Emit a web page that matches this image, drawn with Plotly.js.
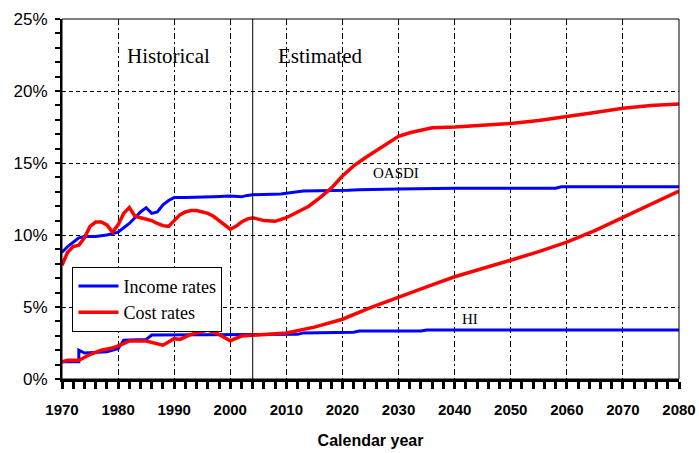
<!DOCTYPE html>
<html>
<head>
<meta charset="utf-8">
<script src="https://cdn.plot.ly/plotly-3.0.1.min.js"></script>
<style>html,body{margin:0;padding:0;background:#fff;}#chart{width:699px;height:453px;}</style>
</head>
<body>
<div id="chart"></div>
<script>
// OASDI income rate (% of taxable payroll)
var oasdiIncomeYears = [1970, 1971, 1972, 1973, 1974, 1976, 1978, 1980, 1981, 1982, 1983, 1984, 1985, 1986, 1987, 1988, 1989, 1990, 1992, 1995, 1997, 2000, 2002, 2003, 2004, 2009, 2011, 2013, 2021, 2023, 2030, 2040, 2058, 2059, 2080];
var oasdiIncomeVals  = [8.8, 9.2, 9.5, 9.8, 9.9, 9.9, 10.0, 10.2, 10.5, 10.8, 11.2, 11.6, 11.9, 11.5, 11.6, 12.1, 12.4, 12.6, 12.6, 12.6, 12.65, 12.7, 12.65, 12.75, 12.8, 12.85, 12.95, 13.05, 13.1, 13.15, 13.2, 13.25, 13.25, 13.35, 13.35];
// OASDI cost rate
var oasdiCostYears = [1970, 1971, 1972, 1973, 1974, 1975, 1976, 1977, 1978, 1979, 1980, 1981, 1982, 1983, 1984, 1985, 1986, 1987, 1988, 1989, 1990, 1991, 1992, 1993, 1994, 1995, 1996, 1997, 1998, 1999, 2000, 2001, 2002, 2003, 2004, 2006, 2008, 2010, 2012, 2014, 2016, 2018, 2020, 2022, 2024, 2026, 2028, 2030, 2032, 2034, 2036, 2040, 2045, 2050, 2055, 2060, 2065, 2070, 2075, 2080];
var oasdiCostVals  = [7.9, 8.8, 9.2, 9.3, 9.8, 10.6, 10.9, 10.9, 10.7, 10.2, 10.7, 11.5, 11.9, 11.3, 11.2, 11.1, 11.0, 10.8, 10.65, 10.6, 11.0, 11.4, 11.6, 11.7, 11.7, 11.6, 11.5, 11.3, 11.0, 10.7, 10.4, 10.6, 10.9, 11.1, 11.2, 11.0, 10.95, 11.2, 11.6, 12.0, 12.6, 13.25, 14.1, 14.8, 15.35, 15.85, 16.4, 16.85, 17.1, 17.3, 17.45, 17.5, 17.6, 17.75, 17.95, 18.2, 18.5, 18.8, 19.0, 19.1];
// HI income rate
var hiIncomeYears = [1970, 1973, 1973, 1974, 1978, 1980, 1981, 1985, 1986, 1992, 2000, 2004, 2012, 2013, 2022, 2023, 2034, 2035, 2080];
var hiIncomeVals  = [1.2, 1.2, 2.0, 1.8, 1.9, 2.1, 2.7, 2.75, 3.05, 3.05, 3.05, 3.1, 3.1, 3.2, 3.25, 3.33, 3.33, 3.4, 3.4];
// HI cost rate
var hiCostYears = [1970, 1971, 1973, 1975, 1977, 1979, 1981, 1982, 1985, 1986, 1988, 1990, 1991, 1993, 1996, 1998, 2000, 2002, 2004, 2010, 2015, 2020, 2025, 2030, 2035, 2040, 2045, 2050, 2055, 2060, 2065, 2070, 2075, 2080];
var hiCostVals  = [1.2, 1.3, 1.3, 1.7, 2.0, 2.15, 2.45, 2.64, 2.64, 2.55, 2.35, 2.8, 2.75, 3.1, 3.4, 3.1, 2.66, 2.98, 3.05, 3.2, 3.6, 4.15, 4.95, 5.7, 6.4, 7.1, 7.65, 8.25, 8.85, 9.5, 10.3, 11.2, 12.1, 13.05];

var xTickVals = [1970, 1980, 1990, 2000, 2010, 2020, 2030, 2040, 2050, 2060, 2070, 2080];
var yTickVals = [0, 5, 10, 15, 20, 25];
var yTickText = ['0%', '5%', '10%', '15%', '20%', '25%'];
var splitYear = 2004;

var blue = '#0000ff', red = '#ff0000';
var traces = [
  {x: hiIncomeYears, y: hiIncomeVals, mode: 'lines', line: {color: blue, width: 3}, showlegend: false, hoverinfo: 'skip'},
  {x: oasdiIncomeYears, y: oasdiIncomeVals, mode: 'lines', name: 'Income rates', line: {color: blue, width: 3}},
  {x: hiCostYears, y: hiCostVals, mode: 'lines', line: {color: red, width: 3.5}, showlegend: false, hoverinfo: 'skip'},
  {x: oasdiCostYears, y: oasdiCostVals, mode: 'lines', name: 'Cost rates', line: {color: red, width: 3.5}}
];

var serif = '"Liberation Serif", "Times New Roman", serif';
var sans = '"Liberation Sans", Arial, sans-serif';

var layout = {
  width: 699, height: 453,
  margin: {l: 62, r: 20, t: 19, b: 74},
  paper_bgcolor: '#fff', plot_bgcolor: '#fff',
  showlegend: true,
  legend: {
    x: 0.017, y: 0.312, xanchor: 'left', yanchor: 'top',
    bgcolor: '#fff', bordercolor: '#000', borderwidth: 1,
    font: {family: serif, size: 18, color: '#000'},
    tracegroupgap: 0, itemwidth: 40, entrywidth: 120
  },
  xaxis: {
    range: [1970, 2080], tickvals: xTickVals, ticktext: xTickVals.map(String),
    ticks: 'outside', ticklen: 7, tickwidth: 3, tickcolor: '#000',
    minor: {dtick: 2, tick0: 1970, ticks: 'outside', ticklen: 7, tickwidth: 3, tickcolor: '#000', showgrid: false},
    showline: true, linewidth: 3, linecolor: '#000',
    showgrid: true, gridcolor: '#000', gridwidth: 1, griddash: '6px,3px,2px,3px',
    tickfont: {family: sans, size: 15, color: '#000', weight: 'bold'},
    ticklabelstandoff: 8,
    title: {text: 'Calendar year', font: {family: sans, size: 16, color: '#000', weight: 'bold'}, standoff: 18},
    zeroline: false, fixedrange: true
  },
  yaxis: {
    range: [0, 25], tickvals: yTickVals, ticktext: yTickText,
    ticks: 'outside', ticklen: 5, tickwidth: 2, tickcolor: '#000',
    minor: {dtick: 1, ticks: 'outside', ticklen: 5, tickwidth: 2, tickcolor: '#000', showgrid: false},
    showline: true, linewidth: 2, linecolor: '#000',
    showgrid: true, gridcolor: '#000', gridwidth: 1, griddash: '4px,3px',
    tickfont: {family: sans, size: 17, color: '#000'},
    ticklabelstandoff: 4,
    zeroline: false, fixedrange: true
  },
  shapes: [
    {type: 'rect', xref: 'paper', yref: 'paper', x0: 0, x1: 1, y0: 0, y1: 1, line: {color: '#000', width: 1}},
    {type: 'line', xref: 'x', yref: 'paper', x0: splitYear, x1: splitYear, y0: 0, y1: 1, line: {color: '#000', width: 1}}
  ],
  annotations: [
    {text: 'Historical', x: 1988.9, y: 22.4, xref: 'x', yref: 'y', showarrow: false, font: {family: serif, size: 21, color: '#000'}},
    {text: 'Estimated', x: 2016, y: 22.4, xref: 'x', yref: 'y', showarrow: false, font: {family: serif, size: 21, color: '#000'}},
    {text: 'OASDI', x: 2029.5, y: 14.3, xref: 'x', yref: 'y', showarrow: false, font: {family: serif, size: 15, color: '#000'}},
    {text: 'HI', x: 2042.7, y: 4.2, xref: 'x', yref: 'y', showarrow: false, font: {family: serif, size: 15, color: '#000'}}
  ]
};

Plotly.newPlot('chart', traces, layout, {staticPlot: true, displayModeBar: false});
</script>
</body>
</html>
